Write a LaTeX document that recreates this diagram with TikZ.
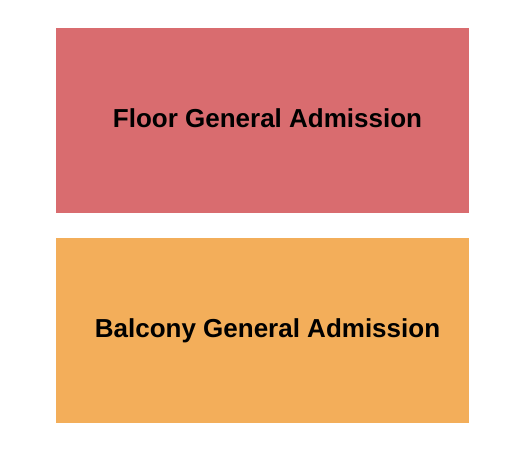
\documentclass[tikz,border=0pt]{standalone}
\usepackage{fontspec}
\setmainfont{Liberation Sans}
\usetikzlibrary{positioning}
\definecolor{floorred}{HTML}{D96C6F}
\definecolor{balconyorange}{HTML}{F3AE5A}
\tikzset{
  % seating areas
  % gebruik: \node[area,fill=kleur] (naam) at (x,y) {};
  area/.style={rectangle,draw=none,inner sep=0pt,minimum width=413bp,minimum height=185bp},
  % labels, geplaatst op de basislijn
  arealabel/.style={anchor=base,inner sep=0pt,font=\fontsize{26bp}{30bp}\selectfont\bfseries},
}
\begin{document}
\begin{tikzpicture}[x=1bp,y=-1bp]
  \useasboundingbox (0,0) rectangle (525,450);
  \node[area,fill=floorred] (floor) at (262.5,120.5) {};
  \node[area,fill=balconyorange,below=25bp of floor] (balcony) {};
  \node[arealabel] (floortext) at (267.5,128) {Floor General Admission};
  \node[arealabel] (balconytext) at (267.5,337.5) {Balcony General Admission};
\end{tikzpicture}
\end{document}
